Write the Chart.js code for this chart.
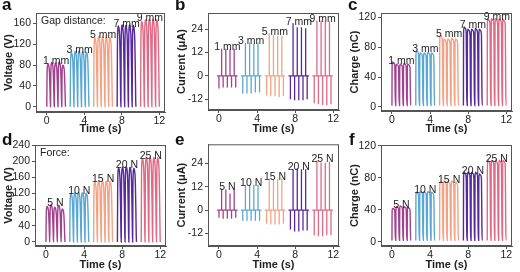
<!DOCTYPE html>
<html>
<head>
<meta charset="utf-8">
<script src="https://cdn.jsdelivr.net/npm/chart.js@4.4.1/dist/chart.umd.min.js"></script>
<style>
  body { margin: 0; background: #fff; }
  #fig { position: relative; width: 520px; height: 272px; overflow: hidden; font-family: Arial, "Liberation Sans", sans-serif; }
  #fig canvas { position: absolute; }
  .tag { position: absolute; font-weight: bold; font-size: 17px; line-height: 17px; color: #111; }
</style>
</head>
<body>
<div id="fig">
  <canvas id="pa" width="173" height="136" style="left:0;top:0"></canvas>
  <canvas id="pb" width="173" height="136" style="left:173px;top:0"></canvas>
  <canvas id="pc" width="174" height="136" style="left:346px;top:0"></canvas>
  <canvas id="pd" width="173" height="136" style="left:0;top:136px"></canvas>
  <canvas id="pe" width="173" height="136" style="left:173px;top:136px"></canvas>
  <canvas id="pf" width="174" height="136" style="left:346px;top:136px"></canvas>
  <div class="tag" style="left:2px;top:-4px">a</div>
  <div class="tag" style="left:175px;top:-4px">b</div>
  <div class="tag" style="left:348px;top:-4px">c</div>
  <div class="tag" style="left:2px;top:131px">d</div>
  <div class="tag" style="left:175px;top:131px">e</div>
  <div class="tag" style="left:349px;top:131px">f</div>
</div>
<script>
const timeTicks = [0, 4, 8, 12]
const gapLabels = ["1 mm", "3 mm", "5 mm", "7 mm", "9 mm"]
const forceLabels = ["5 N", "10 N", "15 N", "20 N", "25 N"]
const groupColors = ["#a1428f", "#5ba7d3", "#f3a283", "#57299a", "#df6a85"]

// start of each pulse train (s)
const groupStarts = [0.0, 2.5, 5.0, 7.5, 10.0]
const wavePeriod = 0.4
const spikePeriod = 0.44

// peak of every cycle, one row per group
const gapVoltage = [
  [82, 85, 84, 86, 80],
  [104, 106, 107, 106, 105],
  [132, 135, 134, 134, 133],
  [155, 157, 156, 157, 156],
  [164, 167, 168, 168, 167],
]
const gapCurrentPos = [
  [14, 14, 13.5, 14],
  [17, 17, 16.5, 17],
  [22, 21, 20.5, 20.5],
  [27, 25, 25, 24.5],
  [28.5, 28.5, 28, 28],
]
const gapCurrentNeg = [
  [-6.5, -6, -6, -6, -6],
  [-9, -9, -9, -8.5, -8.5],
  [-10, -10.5, -10.5, -11, -10.5],
  [-12, -12.5, -12.5, -12.5, -12],
  [-14, -14.5, -15, -15, -14.5],
]
const gapCharge = [
  [60, 57, 57, 58, 57],
  [75, 72, 72, 73, 72],
  [96, 91, 91, 92, 91],
  [107, 104, 104, 105, 104],
  [118, 118, 118, 118, 117],
]
const forceVoltage = [
  [88, 92, 86, 91, 82],
  [120, 122, 123, 122, 121],
  [149, 151, 152, 151, 150],
  [183, 185, 186, 185, 182],
  [207, 210, 210, 209, 208],
]
const forceCurrentPos = [
  [11, 10.5, 8.5, 11],
  [13, 13, 13, 13],
  [16, 16, 16, 16.5],
  [21, 21.5, 21, 21],
  [25.5, 24.5, 24.5, 25],
]
const forceCurrentNeg = [
  [-4, -4.5, -4.5, -4.5, -4],
  [-5.5, -5.5, -5.5, -5.5, -5.5],
  [-7, -7.5, -7.5, -7.5, -7],
  [-10, -11, -11, -10.5, -10.5],
  [-13, -13.5, -13.5, -13, -13],
]
const forceCharge = [
  [42, 44, 45, 44, 43],
  [62, 63, 63, 63, 62],
  [76, 76, 76, 76, 75],
  [87, 87, 87, 87, 85],
  [102, 102, 102, 102, 102],
]

// outline of one press/release cycle: [fraction of period, fraction of peak]
const voltageCycle = [[0, 0], [0.07, 0.72], [0.18, 0.96], [0.32, 1], [0.52, 0.96], [0.7, 0.82], [0.84, 0.45], [0.94, 0.1], [1, 0]]
const chargeCycle = [[0, 0], [0.04, 0.9], [0.14, 1], [0.5, 0.98], [0.74, 0.92], [0.84, 0.3], [0.92, 0], [1, 0]]

const family = "Arial, 'Liberation Sans', sans-serif"
const tickFont = { family, size: 10.5 }
const titleFont = { family, size: 11, weight: "bold", lineHeight: 1.2 }
const noteFont = "10.5px " + family
const ink = "#222"
const axisColor = "#555"

function cyclePoints(peaks, start, shape, floor) {
  const pts = []
  peaks.forEach((peak, i) => {
    shape.forEach(([f, v], j) => {
      if (i > 0 && j === 0) return
      pts.push({ x: start + (i + f) * wavePeriod, y: floor + v * (peak - floor) })
    })
  })
  return pts
}

function spikePoints(pos, neg, start) {
  const pts = [{ x: start - 0.2, y: 0 }]
  neg.forEach((n, i) => {
    const tn = start + i * spikePeriod
    pts.push({ x: tn, y: 0 }, { x: tn, y: n }, { x: tn, y: 0 })
    if (i < pos.length) {
      const tp = tn + 0.28
      pts.push({ x: tp, y: 0 }, { x: tp, y: pos[i] }, { x: tp, y: 0 })
    }
  })
  pts.push({ x: start + (neg.length - 1) * spikePeriod + 0.2, y: 0 })
  return pts
}

const framePlugin = {
  id: "frame",
  afterDraw(chart) {
    const { ctx, chartArea: a } = chart
    ctx.save()
    ctx.strokeStyle = axisColor
    ctx.lineWidth = 1
    ctx.strokeRect(a.left + 0.5, a.top + 0.5, a.right - a.left - 1, a.bottom - a.top - 1)
    ctx.restore()
  },
}

const notesPlugin = {
  id: "notes",
  afterDatasetsDraw(chart, args, opts) {
    const { ctx, scales } = chart
    ctx.save()
    ctx.font = noteFont
    ctx.fillStyle = ink
    ctx.textAlign = "center"
    ctx.textBaseline = "bottom"
    opts.labels.forEach((text, g) => {
      const ds = chart.data.datasets[g].data
      const top = Math.max(...ds.map((p) => p.y))
      const xs = ds.map((p) => p.x)
      const mid = (Math.min(...xs) + Math.max(...xs)) / 2
      ctx.fillText(text, scales.x.getPixelForValue(mid), scales.y.getPixelForValue(top) + 4)
    })
    if (opts.header) {
      ctx.textAlign = "left"
      ctx.textBaseline = "top"
      ctx.fillText(opts.header, chart.chartArea.left + 5, chart.chartArea.top + 3)
    }
    ctx.restore()
  },
}

const panels = [
  { id: "pa", yTitle: "Voltage (V)", yMin: -10, yMax: 180, yTicks: [0, 40, 80, 120, 160], box: [36, 165, 13, 112],
    labels: gapLabels, header: "Gap distance:", series: gapVoltage.map((p, g) => cyclePoints(p, groupStarts[g], voltageCycle, 0)) },
  { id: "pb", yTitle: "Current (\u03bcA)", yMin: -17.5, yMax: 32.3, yTicks: [-12, 0, 12, 24], box: [35, 166, 13, 110],
    labels: gapLabels, series: gapCurrentPos.map((p, g) => spikePoints(p, gapCurrentNeg[g], groupStarts[g])) },
  { id: "pc", yTitle: "Charge (nC)", yMin: -5.4, yMax: 125.5, yTicks: [0, 40, 80, 120], box: [35, 166, 13, 111],
    labels: gapLabels, series: gapCharge.map((p, g) => cyclePoints(p, groupStarts[g], chargeCycle, 2)) },
  { id: "pd", yTitle: "Voltage (V)", yMin: -10, yMax: 240, yTicks: [0, 40, 80, 120, 160, 200, 240], box: [35, 166, 9, 110],
    labels: forceLabels, header: "Force:", series: forceVoltage.map((p, g) => cyclePoints(p, groupStarts[g], voltageCycle, 0)) },
  { id: "pe", yTitle: "Current (\u03bcA)", yMin: -18.5, yMax: 33.8, yTicks: [-12, 0, 12, 24], box: [35, 166, 8, 110],
    labels: forceLabels, series: forceCurrentPos.map((p, g) => spikePoints(p, forceCurrentNeg[g], groupStarts[g])) },
  { id: "pf", yTitle: "Charge (nC)", yMin: -5, yMax: 121, yTicks: [0, 40, 80, 120], box: [35, 166, 9, 110],
    labels: forceLabels, series: forceCharge.map((p, g) => cyclePoints(p, groupStarts[g], chargeCycle, 2)) },
]

panels.forEach((p) => {
  const canvas = document.getElementById(p.id)
  const [left, right, top, bottom] = p.box
  const spikes = p.id === "pb" || p.id === "pe"
  new Chart(canvas, {
    type: "line",
    data: {
      datasets: p.series.map((pts, g) => ({
        data: pts,
        borderColor: groupColors[g],
        borderWidth: spikes ? 1.3 : 1.4,
        pointRadius: 0,
        cubicInterpolationMode: spikes ? "default" : "monotone",
        tension: 0,
      })),
    },
    options: {
      responsive: false,
      animation: false,
      devicePixelRatio: 1,
      layout: { padding: { left: 0, right: canvas.width - right, top: top, bottom: 0 } },
      plugins: {
        legend: { display: false },
        tooltip: { enabled: false },
        notes: { labels: p.labels, header: p.header },
      },
      scales: {
        x: {
          type: "linear",
          min: -1.15,
          max: 12.6,
          afterBuildTicks: (s) => { s.ticks = timeTicks.map((v) => ({ value: v })) },
          afterFit: (s) => { s.height = canvas.height - bottom },
          grid: { drawOnChartArea: false, tickLength: 3, color: axisColor },
          border: { color: axisColor },
          ticks: { font: tickFont, color: ink, padding: 0, maxRotation: 0 },
          title: { display: true, text: "Time (s)", font: titleFont, color: ink, padding: { top: 0, bottom: 0 } },
        },
        y: {
          min: p.yMin,
          max: p.yMax,
          afterBuildTicks: (s) => { s.ticks = p.yTicks.map((v) => ({ value: v })) },
          afterFit: (s) => { s.width = left },
          grid: { drawOnChartArea: false, tickLength: 3, color: axisColor },
          border: { color: axisColor },
          ticks: { font: tickFont, color: ink, padding: 2 },
          title: { display: true, text: p.yTitle, font: titleFont, color: ink, padding: { top: 2, bottom: 0 } },
        },
      },
    },
    plugins: [framePlugin, notesPlugin],
  })
})
</script>
</body>
</html>
